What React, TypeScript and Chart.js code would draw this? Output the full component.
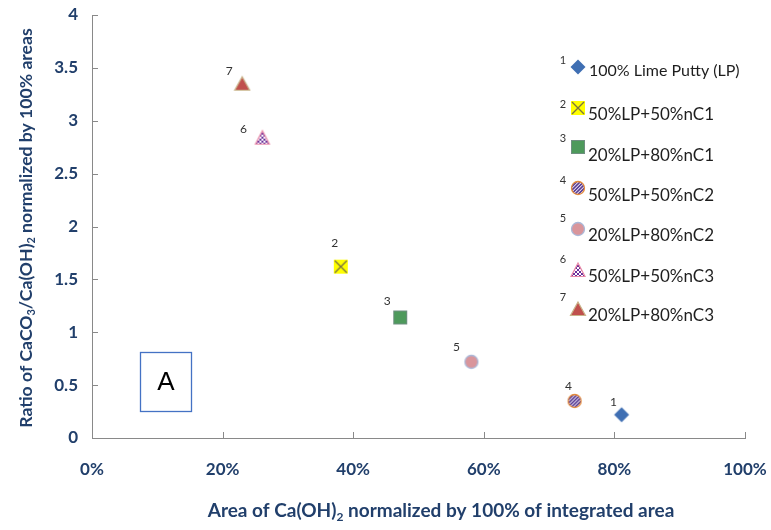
import React, { useEffect, useRef } from "react";
import { Chart, registerables } from "chart.js";
Chart.register(...registerables);

// ---- data ----
const seriesIds = ["1", "2", "3", "4", "5", "6", "7"];
const seriesNames = [
  "100% Lime Putty (LP)",
  "50%LP+50%nC1",
  "20%LP+80%nC1",
  "50%LP+50%nC2",
  "20%LP+80%nC2",
  "50%LP+50%nC3",
  "20%LP+80%nC3",
];
const areaCaOH2 = [81.1, 38.1, 47.2, 73.9, 58.1, 26.1, 23.0];
const ratioCaCO3 = [0.22, 1.62, 1.14, 0.35, 0.72, 2.84, 3.35];
const xTickValues = [0, 20, 40, 60, 80, 100];
const yTickValues = [0, 0.5, 1, 1.5, 2, 2.5, 3, 3.5, 4];

// ---- style ----
const markerKinds = ["diamond", "xsquare", "gsquare", "stripe", "pink", "checker", "redtri"];
const labelOffsets = [[-8, -13], [-6, -24], [-13, -16], [-6, -15], [-15, -15], [-19, -9], [-13, -13]];
const legendMarkerY = [67, 108, 147, 188, 229, 270, 309];
const legendTextY = [71, 115, 156, 196, 236, 277, 316];
const legendNumY = [60, 104, 138, 180, 218, 259, 297];
const AXIS_COLOR = "#213f6b";
const FONT = "Lato, 'Open Sans', sans-serif";

function makeMarker(kind: string): HTMLCanvasElement {
  const c = document.createElement("canvas");
  c.width = 18;
  c.height = 18;
  const g = c.getContext("2d")!;
  const cx = 9, cy = 9;
  g.lineWidth = 1;
  if (kind === "diamond") {
    g.beginPath();
    g.moveTo(cx, cy - 7.5); g.lineTo(cx + 7.5, cy); g.lineTo(cx, cy + 7.5); g.lineTo(cx - 7.5, cy); g.closePath();
    g.fillStyle = "#3f6fb3"; g.fill();
  } else if (kind === "xsquare") {
    g.fillStyle = "#ffff00"; g.fillRect(2, 2, 14, 14);
    g.strokeStyle = "#7a7440"; g.lineWidth = 1.4;
    g.beginPath(); g.moveTo(3, 3); g.lineTo(15, 15); g.moveTo(15, 3); g.lineTo(3, 15); g.stroke();
  } else if (kind === "gsquare") {
    g.fillStyle = "#4e9a5c"; g.fillRect(2.5, 2.5, 13, 13);
    g.strokeStyle = "#6f8f80"; g.strokeRect(2.5, 2.5, 13, 13);
  } else if (kind === "stripe") {
    g.save();
    g.beginPath(); g.arc(cx, cy, 6.5, 0, Math.PI * 2); g.closePath();
    g.fillStyle = "#ffffff"; g.fill(); g.clip();
    g.strokeStyle = "#5a3c96"; g.lineWidth = 1.6;
    for (let k = -18; k < 36; k += 3.5) {
      g.beginPath(); g.moveTo(k, 18); g.lineTo(k + 18, 0); g.stroke();
    }
    g.restore();
    g.beginPath(); g.arc(cx, cy, 6.5, 0, Math.PI * 2);
    g.strokeStyle = "#e38a3c"; g.lineWidth = 1.3; g.stroke();
  } else if (kind === "pink") {
    g.beginPath(); g.arc(cx, cy, 6.5, 0, Math.PI * 2);
    g.fillStyle = "#d9959b"; g.fill();
    g.strokeStyle = "#aab8d8"; g.lineWidth = 1.3; g.stroke();
  } else if (kind === "checker") {
    const path = () => { g.beginPath(); g.moveTo(cx, 2); g.lineTo(16, 15.5); g.lineTo(2, 15.5); g.closePath(); };
    g.save(); path(); g.fillStyle = "#ffffff"; g.fill(); g.clip();
    g.fillStyle = "#6a2f9a";
    for (let yy = 0; yy < 18; yy += 2) for (let xx = 0; xx < 18; xx += 2) if (((xx + yy) / 2) % 2 === 0) g.fillRect(xx, yy, 2, 2);
    g.restore();
    path(); g.strokeStyle = "#e98aa8"; g.lineWidth = 1.2; g.stroke();
  } else if (kind === "redtri") {
    g.beginPath(); g.moveTo(cx, 2); g.lineTo(16.5, 15.5); g.lineTo(1.5, 15.5); g.closePath();
    g.fillStyle = "#c0504d"; g.fill();
    g.strokeStyle = "#c9b48a"; g.lineWidth = 1.2; g.stroke();
  }
  return c;
}

type Part = [string, boolean];
function drawRich(ctx: CanvasRenderingContext2D, parts: Part[], size: number, cx: number, cy: number) {
  const mainFont = `bold ${size}px ${FONT}`;
  const subFont = `bold ${Math.round(size * 0.62)}px ${FONT}`;
  let total = 0;
  for (const [t, sub] of parts) { ctx.font = sub ? subFont : mainFont; total += ctx.measureText(t).width; }
  let x = cx - total / 2;
  ctx.textAlign = "left";
  ctx.textBaseline = "middle";
  for (const [t, sub] of parts) {
    ctx.font = sub ? subFont : mainFont;
    ctx.fillText(t, x, sub ? cy + size * 0.3 : cy);
    x += ctx.measureText(t).width;
  }
}

export default function App() {
  const ref = useRef<HTMLCanvasElement | null>(null);
  useEffect(() => {
    document.body.style.margin = "0";
    const markers = markerKinds.map(makeMarker);
    const overlay = {
      id: "overlay",
      afterDraw(chart: any) {
        const ctx: CanvasRenderingContext2D = chart.ctx;
        const xs = chart.scales.x, ys = chart.scales.y;
        const area = chart.chartArea;
        ctx.save();
        // inner tick marks
        ctx.strokeStyle = "#898989"; ctx.lineWidth = 1;
        ctx.beginPath();
        for (const v of xTickValues) {
          const px = Math.round(xs.getPixelForValue(v)) + 0.5;
          ctx.moveTo(px, area.bottom); ctx.lineTo(px, area.bottom - 6);
        }
        for (const v of yTickValues) {
          const py = Math.round(ys.getPixelForValue(v)) + 0.5;
          ctx.moveTo(area.left, py); ctx.lineTo(area.left + 6, py);
        }
        ctx.stroke();
        // point labels
        ctx.fillStyle = "#333333";
        ctx.font = `12px ${FONT}`;
        ctx.textAlign = "center"; ctx.textBaseline = "middle";
        seriesIds.forEach((id, i) => {
          const px = xs.getPixelForValue(areaCaOH2[i]);
          const py = ys.getPixelForValue(ratioCaCO3[i]);
          ctx.fillText(id, px + labelOffsets[i][0], py + labelOffsets[i][1]);
        });
        // legend
        seriesNames.forEach((name, i) => {
          const m = markers[i];
          ctx.drawImage(m, 578 - m.width / 2, legendMarkerY[i] - m.height / 2);
          ctx.fillStyle = "#333333";
          ctx.font = `11px ${FONT}`;
          ctx.textAlign = "center"; ctx.textBaseline = "middle";
          ctx.fillText(seriesIds[i], 563, legendNumY[i]);
          ctx.fillStyle = "#1e1e1e";
          ctx.font = i === 0 ? `16px ${FONT}` : `17px ${FONT}`;
          ctx.textAlign = "left";
          ctx.fillText(name, i === 0 ? 589 : 588, legendTextY[i]);
        });
        // box A
        ctx.strokeStyle = "#4472c4"; ctx.lineWidth = 1.3;
        ctx.strokeRect(140.5, 352.5, 51, 59);
        ctx.fillStyle = "#000000";
        ctx.font = `26px 'Liberation Sans', Arial, sans-serif`;
        ctx.textAlign = "center"; ctx.textBaseline = "middle";
        ctx.fillText("A", 166, 383);
        // axis titles
        ctx.fillStyle = AXIS_COLOR;
        drawRich(ctx, [["Area of Ca(OH)", false], ["2", true], [" normalized by 100% of integrated area", false]], 19, 441, 511);
        ctx.save();
        ctx.translate(26, 228);
        ctx.rotate(-Math.PI / 2);
        drawRich(ctx, [["Ratio of CaCO", false], ["3", true], ["/Ca(OH)", false], ["2", true], [" normalized by 100% areas", false]], 17.6, 0, 0);
        ctx.restore();
        ctx.restore();
      },
    };
    const chart = new Chart(ref.current!, {
      type: "scatter",
      data: {
        datasets: seriesNames.map((name, i) => ({
          label: name,
          data: [{ x: areaCaOH2[i], y: ratioCaCO3[i] }],
          pointStyle: markers[i] as any,
          pointRadius: 8,
          showLine: false,
        })),
      },
      options: {
        animation: false,
        responsive: true,
        maintainAspectRatio: false,
        layout: { padding: { top: 15, right: 26, left: 0, bottom: 0 } },
        plugins: { legend: { display: false }, title: { display: false }, tooltip: { enabled: false } },
        scales: {
          x: {
            type: "linear",
            min: 0,
            max: 100,
            afterFit: (s: any) => { s.height = 92; s.paddingLeft = 0; s.paddingRight = 0; },
            afterBuildTicks: (s: any) => { s.ticks = xTickValues.map((v) => ({ value: v })); },
            ticks: {
              callback: (v: any) => `${v}%`,
              color: AXIS_COLOR,
              font: { family: FONT, size: 17, weight: "bold" },
              padding: 21,
              maxRotation: 0,
            },
            grid: { display: true, drawOnChartArea: false, drawTicks: false },
            border: { display: true, color: "#898989", width: 1 },
          },
          y: {
            type: "linear",
            min: 0,
            max: 4,
            afterFit: (s: any) => { s.width = 92; s.paddingTop = 0; s.paddingBottom = 0; },
            afterBuildTicks: (s: any) => { s.ticks = yTickValues.map((v) => ({ value: v })); },
            ticks: {
              callback: (v: any) => `${v}`,
              color: AXIS_COLOR,
              font: { family: FONT, size: 17, weight: "bold" },
              padding: 14,
            },
            grid: { display: true, drawOnChartArea: false, drawTicks: false },
            border: { display: true, color: "#898989", width: 1 },
          },
        },
      },
      plugins: [overlay],
    });
    return () => chart.destroy();
  }, []);
  return (
    <div style={{ position: "fixed", left: 0, top: 0, width: 771, height: 530, background: "#fff" }}>
      <canvas ref={ref} />
    </div>
  );
}
